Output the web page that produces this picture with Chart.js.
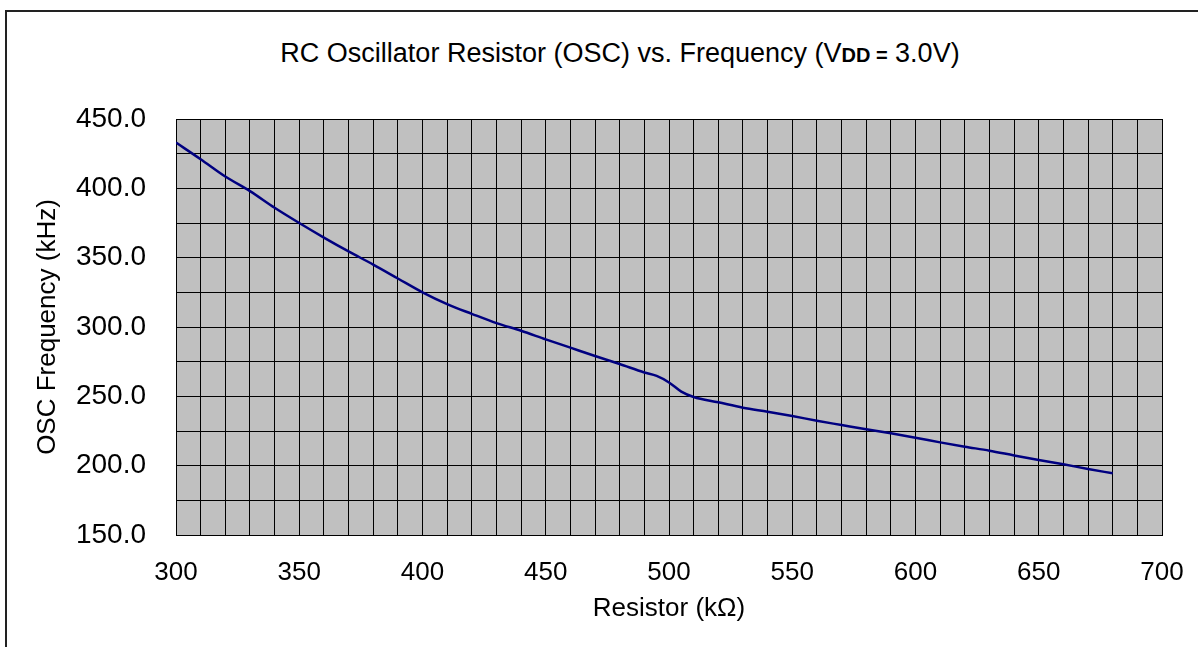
<!DOCTYPE html>
<html>
<head>
<meta charset="utf-8">
<script src="https://cdn.jsdelivr.net/npm/chart.js@4/dist/chart.umd.min.js"></script>
<style>
  html, body { margin: 0; padding: 0; background: #fff; overflow: hidden; }
  #wrap { position: relative; width: 1198px; height: 647px; }
  #frame { position: absolute; left: 5px; top: 10px; width: 1300px; height: 700px; border: 2px solid #222; box-sizing: border-box; }
  #titulo { position: absolute; left: 0; width: 1240px; top: 38px; text-align: center; font-family: "Liberation Sans", Arial, sans-serif; font-size: 27px; color: #000; white-space: nowrap; }
  #titulo b { font-size: 20px; }
  #grafico { position: absolute; left: 0; top: 0; }
</style>
</head>
<body>
<div id="wrap">
  <div id="frame"></div>
  <div id="titulo">RC Oscillator Resistor (OSC) vs. Frequency (V<b>DD =</b> 3.0V)</div>
  <canvas id="grafico" width="1198" height="647"></canvas>
</div>
<script>
// valores
const resistorK = [300, 310, 320, 330, 340, 350, 360, 370, 380, 390, 400, 410, 420, 430, 440, 450, 460, 470, 480, 490, 495, 500, 505, 510, 520, 530, 540, 550, 560, 570, 580, 590, 600, 610, 620, 630, 640, 650, 660, 670, 680];
const freqKHz = [433, 421, 408.5, 398, 386, 375, 364.5, 354.5, 345, 335, 325, 316.5, 309.5, 302.8, 297.3, 291.1, 285.1, 279.1, 273.3, 267.2, 264.7, 260, 253.4, 249.5, 245.7, 241.8, 238.9, 235.8, 232.4, 229.3, 226.2, 223.3, 220.2, 216.8, 213.7, 210.8, 207.4, 204.1, 201, 197.6, 194.5];

const xTickLabels = [300, 350, 400, 450, 500, 550, 600, 650, 700];
const yTickLabels = ['150.0', '200.0', '250.0', '300.0', '350.0', '400.0', '450.0'];

const fonte = '"Liberation Sans", Arial, sans-serif';

// fundo cinza da área do gráfico
const fundoCinza = {
    id: 'fundoCinza',
    beforeDraw(chart) {
        const a = chart.chartArea;
        const ctx = chart.ctx;
        ctx.save();
        ctx.fillStyle = '#c0c0c0';
        ctx.fillRect(a.left, a.top, a.right - a.left, a.bottom - a.top);
        ctx.restore();
    }
};

const pontos = resistorK.map((r, i) => ({ x: r, y: freqKHz[i] }));

new Chart(document.getElementById('grafico').getContext('2d'), {
    type: 'line',
    data: {
        datasets: [{
            label: 'OSC',
            data: pontos,
            borderColor: '#000080',
            borderWidth: 2.5,
            pointRadius: 0,
            fill: false,
            cubicInterpolationMode: 'monotone'
        }]
    },
    options: {
        responsive: false,
        animation: false,
        layout: { padding: { left: 0, right: 36, top: 119, bottom: 0 } },
        plugins: { legend: { display: false }, tooltip: { enabled: false } },
        scales: {
            x: {
                type: 'linear',
                min: 300,
                max: 700,
                afterFit(s) { s.height = 112; s.paddingLeft = 0; s.paddingRight = 0; },
                border: { color: '#000', width: 1 },
                grid: { color: '#000', lineWidth: 1, drawTicks: false },
                ticks: {
                    stepSize: 10,
                    autoSkip: false,
                    maxRotation: 0,
                    padding: 22,
                    color: '#000',
                    font: { family: fonte, size: 26 },
                    callback: v => xTickLabels.includes(v) ? String(v) : ''
                },
                title: {
                    display: true,
                    text: 'Resistor (kΩ)',
                    color: '#000',
                    font: { family: fonte, size: 26 },
                    padding: { top: 0, bottom: 23 }
                }
            },
            y: {
                min: 150,
                max: 450,
                afterFit(s) { s.width = 176; s.paddingTop = 0; s.paddingBottom = 0; },
                border: { color: '#000', width: 1 },
                grid: { color: '#000', lineWidth: 1, drawTicks: false },
                ticks: {
                    stepSize: 25,
                    autoSkip: false,
                    padding: 30,
                    color: '#000',
                    font: { family: fonte, size: 28 },
                    callback: v => {
                        const t = v.toFixed(1);
                        return yTickLabels.includes(t) ? t : '';
                    }
                },
                title: {
                    display: true,
                    text: 'OSC Frequency (kHz)',
                    color: '#000',
                    font: { family: fonte, size: 26 },
                    padding: { top: 32, bottom: 0 }
                }
            }
        }
    },
    plugins: [fundoCinza]
});
</script>
</body>
</html>
